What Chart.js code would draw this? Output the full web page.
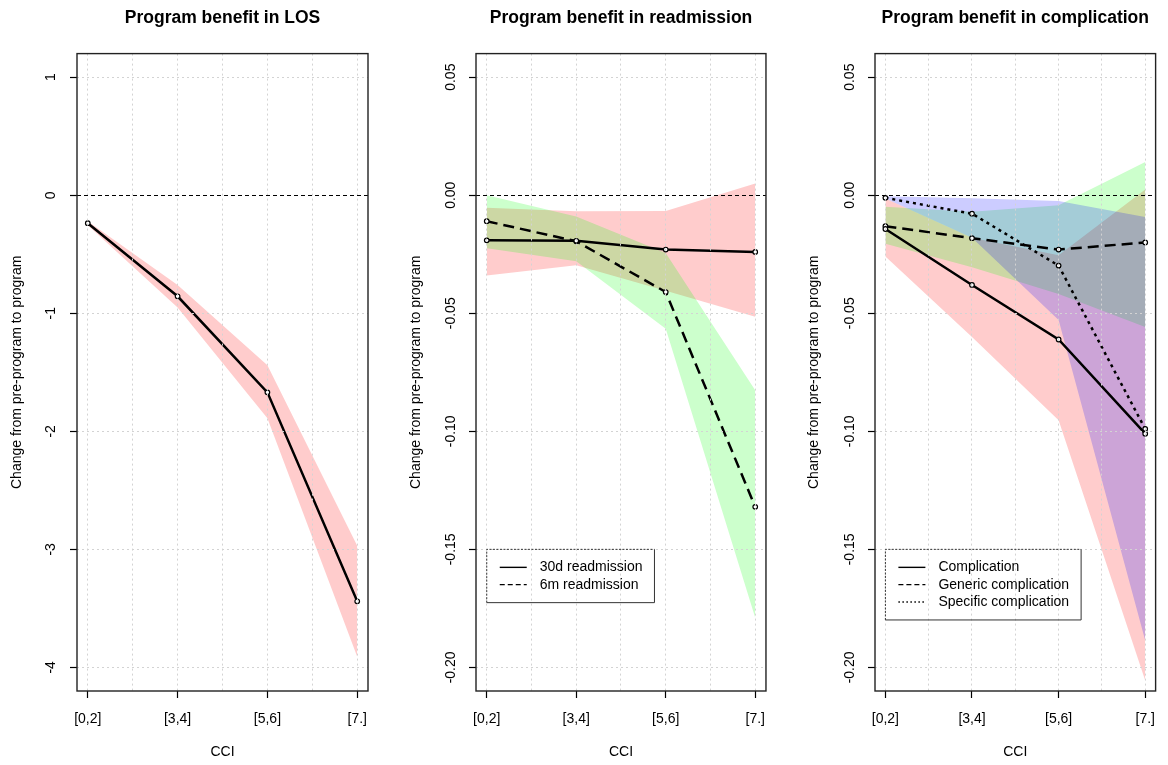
<!DOCTYPE html>
<html>
<head>
  <title>Program benefit by CCI</title>
  <meta charset="utf-8" />
  <script src="https://cdn.jsdelivr.net/npm/chart.js"></script>
  <style>
    body { margin: 0; background: #fff; }
    #wrap { position: relative; width: 1168px; height: 765px; }
    canvas { position: absolute; top: 0; }
  </style>
</head>
<body>
  <div id="wrap">
    <canvas id="losChart" width="389" height="765" style="left:0px"></canvas>
    <canvas id="readmChart" width="389" height="765" style="left:389px"></canvas>
    <canvas id="complChart" width="390" height="765" style="left:778px"></canvas>
  </div>

  <script>
    // categories on the x axis (placed at 1..4, grid every half step)
    const cci = ['[0,2]', '[3,4]', '[5,6]', '[7.]'];
    const xPos = [1, 2, 3, 4];
    const xGrid = [1, 1.5, 2, 2.5, 3, 3.5, 4];

    // LOS panel
    const losTicks = [-4, -3, -2, -1, 0, 1];
    const los   = [-0.237, -0.856, -1.67, -3.44];
    const losLo = [-0.255, -0.95, -1.89, -3.91];
    const losHi = [-0.22, -0.76, -1.44, -2.97];

    // readmission panel
    const rateTicks = [-0.20, -0.15, -0.10, -0.05, 0.00, 0.05];
    const readm30   = [-0.0191, -0.0193, -0.0230, -0.0240];
    const readm30Lo = [-0.034, -0.0297, -0.0405, -0.0515];
    const readm30Hi = [-0.0053, -0.0068, -0.0067, 0.005];
    const readm6m   = [-0.011, -0.0195, -0.041, -0.132];
    const readm6mLo = [-0.0225, -0.028, -0.0565, -0.179];
    const readm6mHi = [0.000, -0.009, -0.0245, -0.0826];

    // complication panel
    const compl      = [-0.0143, -0.038, -0.0611, -0.101];
    const complLo    = [-0.026, -0.060, -0.0953, -0.2055];
    const complHi    = [-0.0014, -0.018, -0.0254, 0.0024];
    const generic    = [-0.0131, -0.0182, -0.023, -0.020];
    const genericLo  = [-0.0205, -0.0305, -0.0418, -0.0558];
    const genericHi  = [-0.0049, -0.007, -0.0042, 0.0141];
    const specific   = [-0.0011, -0.0078, -0.0298, -0.099];
    const specificLo = [-0.0014, -0.018, -0.0528, -0.1886];
    const specificHi = [-0.0004, -0.0013, -0.0024, -0.0092];

    const FONT = "'Liberation Sans', Arial, Helvetica, sans-serif";
    Chart.defaults.font.family = FONT;
    Chart.defaults.font.size = 14;
    Chart.defaults.color = '#000';

    const RED = 'rgba(255,0,0,0.2)';
    const GREEN = 'rgba(0,255,0,0.2)';
    const BLUE = 'rgba(0,0,255,0.2)';
    const SOLID = [], DASHED = [11, 6], DOTTED = [3, 4];

    const pts = ys => ys.map((y, i) => ({ x: xPos[i], y: y }));

    function buildDatasets(bands, lines) {
      const ds = [];
      bands.forEach((b, k) => {
        const order = 30 - k * 10;
        ds.push({ data: pts(b.lo), borderColor: 'rgba(0,0,0,0)', borderWidth: 0, pointRadius: 0, fill: false, order: order });
        ds.push({ data: pts(b.hi), borderColor: 'rgba(0,0,0,0)', borderWidth: 0, pointRadius: 0, fill: '-1', backgroundColor: b.color, order: order });
      });
      lines.forEach(l => {
        ds.push({
          label: l.label,
          data: pts(l.y),
          borderColor: '#000',
          borderWidth: 2.5,
          borderDash: l.dash,
          legendDash: l.legendDash,
          pointRadius: 2.3,
          pointBorderWidth: 1.2,
          pointBorderColor: '#000',
          pointBackgroundColor: '#fff',
          fill: false,
          order: 0
        });
      });
      return ds;
    }

    const framePlugin = {
      id: 'frame',
      afterDraw(chart) {
        const { ctx, chartArea: a } = chart;
        ctx.save();
        ctx.strokeStyle = '#222';
        ctx.lineWidth = 1.4;
        ctx.strokeRect(a.left, a.top, a.right - a.left, a.bottom - a.top);
        ctx.restore();
      }
    };

    // R-style legend box anchored at a data coordinate (top-left corner)
    const boxLegend = {
      id: 'boxLegend',
      afterDraw(chart, args, opts) {
        if (!opts || !opts.show) return;
        const items = chart.data.datasets.filter(d => d.label);
        const { ctx, scales } = chart;
        const x0 = scales.x.getPixelForValue(opts.x);
        const y0 = scales.y.getPixelForValue(opts.y);
        ctx.save();
        ctx.font = '14px ' + FONT;
        const textW = Math.max(...items.map(d => ctx.measureText(d.label).width));
        const rowH = 17.3;
        const w = 53 + textW + 12;
        const h = items.length * rowH + 18.7;
        ctx.strokeStyle = '#333';
        ctx.lineWidth = 1;
        ctx.setLineDash([2, 1.5]);
        ctx.beginPath();
        ctx.moveTo(x0, y0 + h); ctx.lineTo(x0, y0); ctx.lineTo(x0 + w, y0);
        ctx.stroke();
        ctx.setLineDash([]);
        ctx.beginPath();
        ctx.moveTo(x0 + w, y0); ctx.lineTo(x0 + w, y0 + h); ctx.lineTo(x0, y0 + h);
        ctx.stroke();
        ctx.fillStyle = '#000';
        ctx.textBaseline = 'middle';
        items.forEach((d, i) => {
          const cy = y0 + 9.35 + rowH * (i + 0.5);
          ctx.strokeStyle = '#000';
          ctx.lineWidth = 1.4;
          ctx.setLineDash(d.legendDash);
          ctx.beginPath();
          ctx.moveTo(x0 + 13, cy); ctx.lineTo(x0 + 40, cy);
          ctx.stroke();
          ctx.fillText(d.label, x0 + 53, cy);
        });
        ctx.restore();
      }
    };

    function makeChart(id, cfg) {
      const canvas = document.getElementById(id);
      const W = canvas.width;
      return new Chart(canvas, {
        type: 'line',
        data: { datasets: cfg.datasets },
        plugins: [framePlugin, boxLegend],
        options: {
          responsive: false,
          animation: false,
          events: [],
          layout: { autoPadding: false, padding: { top: 0, left: 0, bottom: 0, right: W - cfg.plotRight } },
          plugins: {
            legend: { display: false },
            tooltip: { enabled: false },
            filler: { propagate: false },
            title: {
              display: true,
              text: cfg.title,
              fullSize: false,
              color: '#000',
              font: { size: 17.5, weight: 'bold' },
              padding: { top: 8, bottom: 24.6 }
            },
            boxLegend: cfg.legend || { show: false }
          },
          scales: {
            x: {
              type: 'linear',
              min: 0.88,
              max: 4.12,
              afterBuildTicks: s => { s.ticks = xGrid.map(v => ({ value: v })); },
              afterFit: s => { s.height = 74; },
              ticks: {
                autoSkip: false,
                maxRotation: 0,
                padding: 12.6,
                font: { size: 14 },
                callback: v => Number.isInteger(v) ? cci[xPos.indexOf(v)] : ''
              },
              grid: {
                z: 1,
                color: '#d3d3d3',
                lineWidth: 1,
                tickLength: 7,
                tickWidth: 1.2,
                tickBorderDash: [],
                tickColor: c => (c.tick && Number.isInteger(c.tick.value)) ? '#000' : 'rgba(0,0,0,0)'
              },
              border: { display: false, dash: [2, 3] },
              title: { display: true, text: 'CCI', font: { size: 14 }, padding: { top: 0, bottom: 4.6 } }
            },
            y: {
              type: 'linear',
              min: cfg.yMin,
              max: cfg.yMax,
              afterBuildTicks: s => { s.ticks = cfg.yTicks.map(v => ({ value: v })); },
              afterFit: s => { s.width = cfg.plotLeft; },
              ticks: {
                minRotation: 90,
                maxRotation: 90,
                crossAlign: 'center',
                padding: cfg.tickPad,
                font: { size: 14 },
                callback: v => v.toFixed(cfg.digits)
              },
              grid: {
                z: 1,
                color: c => (c.tick && c.tick.value === 0) ? '#000' : '#d3d3d3',
                lineWidth: 1,
                tickLength: 7,
                tickWidth: 1.2,
                tickBorderDash: [],
                tickColor: '#000'
              },
              border: { display: false, dash: c => (c.tick && c.tick.value === 0) ? [4, 3] : [2, 3] },
              title: {
                display: true,
                text: 'Change from pre-program to program',
                font: { size: 14 },
                padding: { top: cfg.titlePad, bottom: 0 }
              }
            }
          }
        }
      });
    }

    makeChart('losChart', {
      title: 'Program benefit in LOS',
      plotLeft: 77, plotRight: 368,
      yMin: -4.2, yMax: 1.2, yTicks: losTicks, digits: 0, tickPad: 12.8, titlePad: 8.6,
      datasets: buildDatasets(
        [{ lo: losLo, hi: losHi, color: RED }],
        [{ label: 'LOS', y: los, dash: SOLID, legendDash: [] }]
      )
    });

    makeChart('readmChart', {
      title: 'Program benefit in readmission',
      plotLeft: 87, plotRight: 378,
      yMin: -0.21, yMax: 0.06, yTicks: rateTicks, digits: 2, tickPad: 2, titlePad: 18.6,
      legend: { show: true, x: 1, y: -0.15 },
      datasets: buildDatasets(
        [{ lo: readm30Lo, hi: readm30Hi, color: RED }, { lo: readm6mLo, hi: readm6mHi, color: GREEN }],
        [
          { label: '30d readmission', y: readm30, dash: SOLID, legendDash: [] },
          { label: '6m readmission', y: readm6m, dash: DASHED, legendDash: [5, 3] }
        ]
      )
    });

    makeChart('complChart', {
      title: 'Program benefit in complication',
      plotLeft: 97, plotRight: 388,
      yMin: -0.21, yMax: 0.06, yTicks: rateTicks, digits: 2, tickPad: 1.5, titlePad: 27.6,
      legend: { show: true, x: 1, y: -0.15 },
      datasets: buildDatasets(
        [
          { lo: complLo, hi: complHi, color: RED },
          { lo: genericLo, hi: genericHi, color: GREEN },
          { lo: specificLo, hi: specificHi, color: BLUE }
        ],
        [
          { label: 'Complication', y: compl, dash: SOLID, legendDash: [] },
          { label: 'Generic complication', y: generic, dash: DASHED, legendDash: [5, 3] },
          { label: 'Specific complication', y: specific, dash: DOTTED, legendDash: [1.5, 2.5] }
        ]
      )
    });
  </script>
</body>
</html>
